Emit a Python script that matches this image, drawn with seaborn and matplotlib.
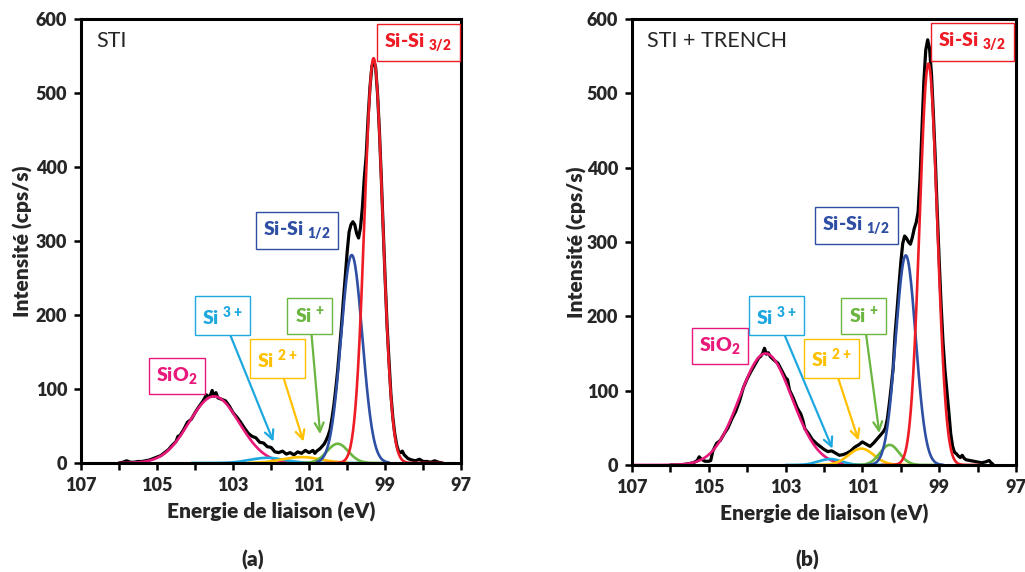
import numpy as np
import pandas as pd
import matplotlib
matplotlib.use("Agg")
import matplotlib.pyplot as plt
import seaborn as sns

energy_a = [106.0, 105.9, 105.8, 105.7, 105.6, 105.5, 105.4, 105.3, 105.2, 105.1,
            105.0, 104.9, 104.8, 104.7, 104.6, 104.5, 104.45, 104.4, 104.3, 104.2,
            104.1, 104.0, 103.9, 103.8, 103.7, 103.65, 103.6, 103.55, 103.5, 103.45,
            103.4, 103.3, 103.2, 103.1, 103.0, 102.9, 102.8, 102.7, 102.6, 102.5,
            102.4, 102.3, 102.2, 102.1, 102.0, 101.9, 101.8, 101.7, 101.6, 101.5,
            101.4, 101.3, 101.2, 101.1, 101.0, 100.9, 100.85, 100.8, 100.75, 100.7,
            100.65, 100.6, 100.55, 100.5, 100.45, 100.4, 100.35, 100.3, 100.25, 100.2,
            100.15, 100.1, 100.05, 100.0, 99.95, 99.9, 99.85, 99.8, 99.75, 99.7,
            99.65, 99.6, 99.55, 99.5, 99.45, 99.4, 99.35, 99.3, 99.25, 99.2,
            99.15, 99.1, 99.05, 99.0, 98.95, 98.9, 98.85, 98.8, 98.75, 98.7,
            98.65, 98.6, 98.55, 98.5, 98.4, 98.3, 98.2, 98.1, 98.0, 97.9,
            97.8, 97.7, 97.6, 97.5]
counts_a = [0, 1, 3, 1, 1, 2, 2, 3, 4, 6,
            8, 10, 14, 18, 24, 29, 36, 37, 45, 55,
            59, 68, 76, 83, 92, 90, 91, 98, 90, 95,
            88, 86, 84, 77, 68, 62, 55, 47, 40, 36,
            34, 28, 27, 22, 21, 15, 14, 16, 12, 14,
            11, 15, 13, 17, 14, 17, 13, 16, 18, 20,
            23, 26, 31, 37, 45, 60, 78, 100, 125, 155,
            185, 220, 252, 285, 312, 322, 326, 322, 310, 304,
            318, 345, 385, 415, 466, 508, 536, 544, 534, 498,
            446, 382, 313, 247, 185, 138, 93, 62, 40, 25,
            16, 14, 16, 11, 6, 4, 3, 5, 2, 2,
            1, 3, 1, 0]

energy_b = [106.0, 105.8, 105.6, 105.5, 105.4, 105.3, 105.25, 105.2, 105.1, 105.0,
            104.95, 104.9, 104.8, 104.7, 104.6, 104.5, 104.4, 104.3, 104.2, 104.1,
            104.0, 103.9, 103.8, 103.7, 103.65, 103.6, 103.55, 103.5, 103.45, 103.4,
            103.3, 103.2, 103.1, 103.0, 102.95, 102.9, 102.8, 102.7, 102.6, 102.55,
            102.5, 102.4, 102.3, 102.2, 102.1, 102.0, 101.9, 101.8, 101.7, 101.6,
            101.5, 101.4, 101.3, 101.2, 101.1, 101.0, 100.9, 100.8, 100.7, 100.6,
            100.5, 100.45, 100.4, 100.35, 100.3, 100.25, 100.2, 100.15, 100.1, 100.05,
            100.0, 99.95, 99.9, 99.85, 99.8, 99.75, 99.7, 99.65, 99.6, 99.55,
            99.5, 99.45, 99.4, 99.35, 99.3, 99.25, 99.2, 99.15, 99.1, 99.05,
            99.0, 98.95, 98.9, 98.85, 98.8, 98.75, 98.7, 98.65, 98.6, 98.55,
            98.5, 98.45, 98.4, 98.35, 98.3, 98.2, 98.1, 98.0, 97.9, 97.8,
            97.7, 97.65, 97.6]
counts_b = [0, 0, 1, 2, 3, 6, 11, 8, 5, 5,
            6, 18, 29, 33, 42, 50, 62, 72, 86, 104,
            116, 126, 135, 144, 146, 150, 157, 149, 151, 146,
            141, 137, 127, 117, 115, 101, 90, 77, 68, 60,
            49, 42, 34, 29, 25, 21, 18, 19, 16, 13,
            14, 16, 19, 24, 27, 31, 28, 25, 30, 36,
            42, 45, 50, 62, 82, 105, 130, 175, 207, 240,
            272, 298, 308, 305, 300, 297, 306, 318, 326, 340,
            385, 450, 515, 558, 572, 560, 525, 470, 410, 340,
            275, 215, 165, 128, 100, 72, 42, 25, 17, 15,
            12, 10, 13, 9, 7, 6, 5, 4, 3, 4,
            6, 3, 1]

# fitted components: centre (eV), height (cps/s), sigma (eV), drawn from/to (eV)
components = ["SiO2", "Si3+", "Si2+", "Si+", "Si-Si 1/2", "Si-Si 3/2"]
comp_colors = ["#e8197a", "#1ea8e0", "#ffc000", "#6ab640", "#2e4fa3", "#ee1c25"]

center_a = [103.5, 102.1, 101.2, 100.25, 99.88, 99.305]
height_a = [90, 7, 8, 26, 281, 547]
sigma_a = [0.66, 0.45, 0.5, 0.28, 0.28, 0.24]
start_a = [106.0, 104.1, 102.6, 101.2, 100.8, 100.6]
stop_a = [101.2, 99.6, 100.0, 98.97, 98.9, 97.47]

center_b = [103.52, 101.84, 101.03, 100.29, 99.87, 99.28]
height_b = [150, 8, 22, 27, 282, 540]
sigma_b = [0.68, 0.3, 0.33, 0.25, 0.26, 0.23]
start_b = [107.0, 103.0, 102.2, 101.3, 100.9, 100.5]
stop_b = [101.5, 100.0, 99.8, 99.0, 98.9, 97.93]

label_texts = [r"SiO$_\mathbf{2}$", r"Si $^\mathbf{3+}$", r"Si $^\mathbf{2+}$",
               r"Si $^\mathbf{+}$", r"Si-Si $_\mathbf{1/2}$", r"Si-Si $_\mathbf{3/2}$"]

xticks = [107, 105, 103, 101, 99, 97]
yticks = [0, 100, 200, 300, 400, 500, 600]

sns.set_style("ticks")
plt.rcParams["font.family"] = ["Lato", "DejaVu Sans"]
plt.rcParams["font.weight"] = "heavy"
plt.rcParams["mathtext.fontset"] = "custom"
plt.rcParams["mathtext.rm"] = "Lato"
plt.rcParams["mathtext.bf"] = "Lato:heavy"


def peak(e, c, h, s):
    return h * np.exp(-(e - c) ** 2 / (2 * s ** 2))


def draw_panel(ax, energy, counts, centers, heights, sigmas, starts, stops,
               title, label_pos, arrow_tips, ypad):
    df = pd.DataFrame({"E": energy, "I": counts})
    sns.lineplot(data=df, x="E", y="I", color="black", lw=2.3,
                 estimator=None, sort=False, ax=ax)
    for i in range(len(components)):
        e = np.linspace(stops[i], starts[i], 400)
        sns.lineplot(x=e, y=peak(e, centers[i], heights[i], sigmas[i]),
                     color=comp_colors[i], lw=1.9, estimator=None, ax=ax)

    for i, txt in enumerate(label_texts):
        kw = dict(fontsize=14, fontweight="heavy", color=comp_colors[i],
                  ha="center", va="center",
                  bbox=dict(boxstyle="square,pad=0.38", fc="white",
                            ec=comp_colors[i], lw=1.0))
        if arrow_tips[i] is None:
            ax.text(label_pos[i][0], label_pos[i][1], txt, **kw)
        else:
            ax.annotate(txt, xy=arrow_tips[i], xytext=label_pos[i],
                        arrowprops=dict(arrowstyle="->", color=comp_colors[i],
                                        lw=1.6, mutation_scale=16,
                                        shrinkA=0, shrinkB=0),
                        **kw)

    ax.text(0.04, 0.95, title, transform=ax.transAxes, fontsize=15.5,
            fontweight="normal", ha="left", va="center")

    ax.set_xlim(107, 97)
    ax.set_ylim(0, 600)
    ax.set_xticks(xticks)
    ax.set_xticks([106, 104, 102, 100, 98], minor=True)
    ax.set_yticks(yticks)
    ax.tick_params(which="both", direction="out", length=5, width=1.8,
                   labelsize=13, color="black", pad=5)
    for lab in ax.get_xticklabels() + ax.get_yticklabels():
        lab.set_fontweight("heavy")
    for sp in ax.spines.values():
        sp.set_visible(True)
        sp.set_linewidth(2.2)
        sp.set_color("black")
    ax.set_xlabel("Energie de liaison (eV)", fontsize=15, fontweight="heavy",
                  labelpad=6)
    ax.set_ylabel("Intensité (cps/s)", fontsize=15, fontweight="heavy",
                  labelpad=ypad)


fig = plt.figure(figsize=(10.25, 5.72), dpi=100)
ax_a = fig.add_axes([0.079, 0.1906, 0.371, 0.7762])
ax_b = fig.add_axes([0.6166, 0.1871, 0.3746, 0.7797])

draw_panel(ax_a, energy_a, counts_a, center_a, height_a, sigma_a, start_a, stop_a,
           "STI",
           [(104.47, 117), (103.28, 199), (101.83, 141), (100.98, 199),
            (101.32, 314), (98.13, 568)],
           [None, (101.94, 29), (101.15, 29), (100.71, 39), None, None], 2)
draw_panel(ax_b, energy_b, counts_b, center_b, height_b, sigma_b, start_b, stop_b,
           "STI + TRENCH",
           [(104.71, 160), (103.24, 201), (101.8, 143.5), (100.97, 201),
            (101.16, 322), (98.14, 569)],
           [None, (101.78, 22), (101.10, 33), (100.56, 43), None, None], 0)

fig.text(0.247, 0.021, "(a)", fontsize=15, fontweight="heavy", ha="center", va="center")
fig.text(0.788, 0.021, "(b)", fontsize=15, fontweight="heavy", ha="center", va="center")

fig.savefig("out.png", dpi=100)
